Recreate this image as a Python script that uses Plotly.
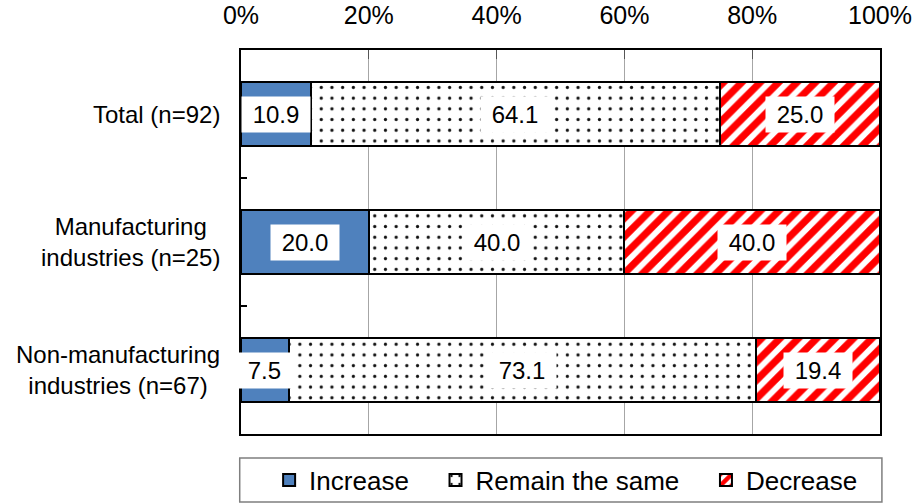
import plotly.graph_objects as go

# Survey responses by industry group (percent of respondents)
groups = ["Total (n=92)", "Manufacturing<br>industries (n=25)", "Non-manufacturing<br>industries (n=67)"]
increase = [10.9, 20.0, 7.5]
remain_same = [64.1, 40.0, 73.1]
decrease = [25.0, 40.0, 19.4]

series_names = ["Increase", "Remain the same", "Decrease"]
x_tick_values = [0, 20, 40, 60, 80, 100]
x_tick_labels = ["0%", "20%", "40%", "60%", "80%", "100%"]

FONT = "Liberation Sans, Arial, sans-serif"
NB = "\u00a0"

fig = go.Figure()

styles = [
    dict(color="#4f81bd", pattern=dict(shape="")),
    dict(color="white", pattern=dict(shape=".", fgcolor="#111111", bgcolor="white",
                                     fgopacity=1, size=10.7, solidity=0.07)),
    dict(color="white", pattern=dict(shape="/", fgcolor="#ff0000", bgcolor="white",
                                     fgopacity=1, size=13, solidity=0.55)),
]
legend_pad = [NB * 3, NB * 3, ""]

for name, vals, st, pad in zip(series_names, [increase, remain_same, decrease], styles, legend_pad):
    fig.add_trace(go.Bar(
        y=groups, x=vals, orientation="h", name=name + pad,
        marker=dict(color=st["color"], pattern=st["pattern"],
                    line=dict(color="black", width=2)),
        hoverinfo="skip",
    ))

# Value labels in white boxes, centred on each segment
annotations = []
for gi, g in enumerate(groups):
    start = 0.0
    for vals in [increase, remain_same, decrease]:
        v = vals[gi]
        annotations.append(dict(
            x=start + v / 2, y=g, xref="x", yref="y",
            text=f"{NB}{v:.1f}{NB}", showarrow=False,
            font=dict(family=FONT, size=24, color="black"),
            bgcolor="white", borderpad=4,
        ))
        start += v

# Category labels, centred lines, right edge beside the axis
for g in groups:
    annotations.append(dict(
        x=-0.029, y=g, xref="paper", yref="y",
        text=g, showarrow=False, xanchor="right", align="center",
        font=dict(family=FONT, size=24, color="black"),
    ))

fig.update_layout(
    barmode="stack",
    bargap=0.5,
    width=924, height=504,
    margin=dict(l=241, r=44, t=50, b=70, autoexpand=False),
    paper_bgcolor="white", plot_bgcolor="white",
    font=dict(family=FONT, size=24, color="black"),
    annotations=annotations,
    showlegend=True,
    legend=dict(
        orientation="h", x=0.044, xanchor="left", y=-0.12, yanchor="middle",
        font=dict(family=FONT, size=26, color="black"),
        traceorder="normal", bgcolor="rgba(0,0,0,0)", borderwidth=0,
    ),
    shapes=[dict(
        type="rect", xref="paper", yref="paper",
        x0=-0.002, x1=1.003, y0=-0.0625, y1=-0.177,
        line=dict(color="#7f7f7f", width=1.5), fillcolor="rgba(0,0,0,0)",
    )],
)

fig.update_xaxes(
    side="top", range=[0, 100],
    tickvals=x_tick_values, ticktext=x_tick_labels,
    showgrid=True, gridcolor="#a6a6a6", gridwidth=1,
    ticks="inside", ticklen=9, tickcolor="#555555", tickwidth=1,
    ticklabelstandoff=14, automargin=False,
    showline=True, linecolor="black", linewidth=2, mirror=True,
    zeroline=False, fixedrange=True,
    tickfont=dict(family=FONT, size=25, color="black"),
)
fig.update_yaxes(
    type="category", autorange="reversed",
    showticklabels=False, automargin=False,
    ticks="inside", tickson="boundaries", ticklen=6, tickcolor="black", tickwidth=1.5,
    showgrid=False,
    showline=True, linecolor="black", linewidth=2, mirror=True,
    fixedrange=True,
)

fig.write_html("out.html")
